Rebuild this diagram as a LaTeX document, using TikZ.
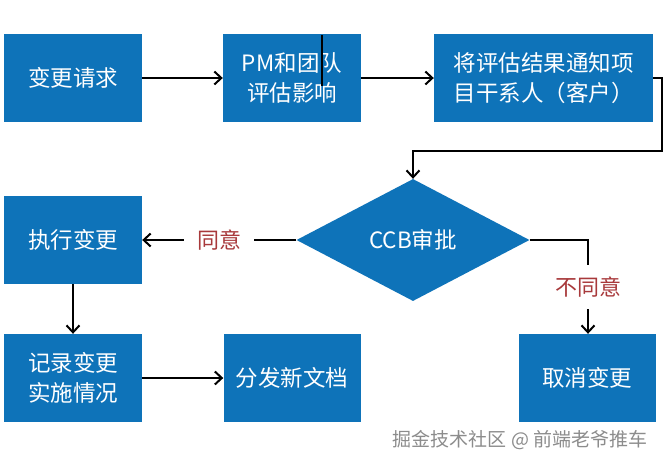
\documentclass[tikz,border=0pt]{standalone}
\usepackage{fontspec}
\setmainfont{Noto Sans CJK SC}
\usetikzlibrary{arrows.meta,shapes.geometric}
\definecolor{boxblue}{HTML}{0E73B9}
\definecolor{labred}{HTML}{A8393B}
\definecolor{wmgray}{HTML}{8C8C8C}
\tikzset{
  x=1pt, y=-1pt,
  box/.style={draw=none, fill=boxblue, text=white, minimum width=138pt, minimum height=88pt,
    inner sep=0pt, align=center, font=\fontsize{22.5}{30}\selectfont},
  decision/.style={diamond, fill=boxblue, text=white, minimum width=233pt, minimum height=122pt,
    aspect=1.9, inner sep=0pt, font=\fontsize{22.5}{26}\selectfont},
  conn/.style={draw=black, line width=2pt},
  arr/.style={conn, -{Straight Barb[length=7pt,width=13pt,line width=2pt]}},
  lab/.style={text=labred, fill=white, font=\fontsize{22}{24}\selectfont},
}
\begin{document}
\begin{tikzpicture}
\useasboundingbox[fill=white] (0,0) rectangle (664,464);
% boxes
\node[box] (req) at (73,78) {变更请求};
\node[box] (pm) at (292,78) {PM和团队\\评估影响};
\node[box, minimum width=219pt] (notify) at (543.5,78) {将评估结果通知项\\目干系人（客户）};
\node[decision] (ccb) at (413,240) {CCB审批};
\node[box] (exec) at (73,240) {执行变更};
\node[box] (rec) at (73,378) {记录变更\\实施情况};
\node[box, minimum width=137pt] (dist) at (292,378) {分发新文档};
\node[box, minimum width=137pt] (cancel) at (587,378) {取消变更};
% cursor mark
\coordinate (cur1) at (322,35);
\coordinate (cur2) at (322,86);
\draw[line width=1.4pt] (cur1) -- (cur2);
% connectors
\draw[arr] (req.east) -- (pm.west);
\draw[arr] (pm.east) -- (notify.west);
\coordinate (c1) at (662,78);
\coordinate (c2) at (662,151);
\coordinate (c3) at (413,151);
\draw[arr] (notify.east) -- (c1) -- (c2) -- (c3) -- (ccb.north);
\draw[arr] (ccb.west) -- node[lab, inner xsep=13pt, inner ysep=2pt] (yes) {同意} (exec.east);
\coordinate (n1) at (588,240);
\draw[arr] (ccb.east) -- (n1) -- node[lab, inner xsep=2pt, inner ysep=12pt] (no) {不同意} (n1 |- cancel.north);
\draw[arr] (exec.south) -- (rec.north);
\draw[arr] (rec.east) -- (dist.west);
% watermark
\node[text=wmgray, font=\fontsize{19}{21}\selectfont, anchor=east] (wm) at (651,440) {掘金技术社区 @ 前端老爷推车};
\end{tikzpicture}
\end{document}
